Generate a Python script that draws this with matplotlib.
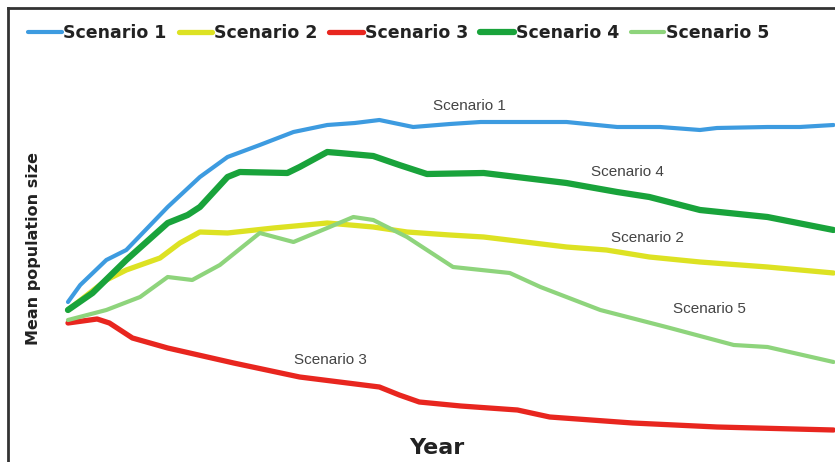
import matplotlib.pyplot as plt

# values (years, arbitrary population units)
yr1 = [0, 0.8, 2.5, 3.8, 6.5, 8.6, 10.4, 12.5, 14.7, 16.9, 18.7, 20.3, 22.5, 24.9, 26.9, 29.5, 32.5, 35.8, 38.6, 41.2, 42.3, 45.6, 47.7, 49.9]
pop1 = [138, 155, 180, 190, 233, 263, 283, 295, 308, 315, 317, 320, 313, 316, 318, 318, 318, 313, 313, 310, 312, 313, 313, 315]

yr2 = [0, 2.5, 3.8, 6.0, 7.3, 8.6, 10.4, 13.4, 16.9, 19.9, 22.1, 24.9, 27.1, 32.5, 35.1, 37.9, 41.2, 45.6, 49.9]
pop2 = [130, 160, 170, 182, 197, 208, 207, 212, 217, 213, 208, 205, 203, 193, 190, 183, 178, 173, 167]

yr3 = [0, 1.9, 2.7, 4.2, 6.5, 10.8, 15.1, 17.7, 20.3, 21.6, 22.9, 25.6, 29.3, 31.4, 36.8, 42.3, 49.9]
pop3 = [117, 121, 117, 102, 92, 77, 63, 58, 53, 45, 38, 34, 30, 23, 17, 13, 10]

yr4 = [0, 1.6, 3.8, 6.5, 7.8, 8.6, 10.4, 11.2, 14.3, 15.1, 16.9, 17.7, 19.9, 21.6, 23.4, 27.1, 32.5, 35.8, 37.9, 41.2, 45.6, 49.9]
pop4 = [130, 147, 180, 217, 225, 233, 263, 268, 267, 273, 288, 287, 284, 275, 266, 267, 257, 248, 243, 230, 223, 210]

yr5 = [0, 2.5, 4.7, 6.5, 8.1, 9.9, 12.5, 14.7, 16.9, 18.6, 19.9, 22.1, 25.1, 28.8, 30.8, 34.7, 39.0, 43.4, 45.6, 49.9]
pop5 = [120, 130, 143, 163, 160, 175, 207, 198, 212, 223, 220, 203, 173, 167, 153, 130, 113, 95, 93, 78]

names = ["Scenario 1", "Scenario 2", "Scenario 3", "Scenario 4", "Scenario 5"]
colors = ["#3d9be0", "#dde223", "#e8261f", "#19a33b", "#8ed47c"]
widths = [3.0, 3.8, 3.8, 4.5, 3.0]

# label positions (year, pop), same order as names
label_pos = [(26.2, 334), (37.8, 202), (17.1, 80), (36.5, 268), (41.8, 131)]

fig = plt.figure(figsize=(8.35, 4.62), dpi=100)
ax = fig.add_axes([8 / 835, 0, 827 / 835, 454 / 462])

series = [(yr1, pop1), (yr2, pop2), (yr3, pop3), (yr4, pop4), (yr5, pop5)]
for (x, y), name, c, w in zip(series, names, colors, widths):
    ax.plot(x, y, color=c, lw=w, label=name, solid_joinstyle="round", solid_capstyle="round")

for name, (lx, ly) in zip(names, label_pos):
    ax.text(lx, ly, name, color="#444444", fontsize=11, family="Liberation Sans",
            ha="center", va="center")

ax.set_xlim(-3.91, 50.0)
ax.set_ylim(-22, 432)
ax.set_xticks([])
ax.set_yticks([])
for s in ["right", "bottom"]:
    ax.spines[s].set_visible(False)
for s in ["left", "top"]:
    ax.spines[s].set_color("#333333")
    ax.spines[s].set_linewidth(2)

ax.text(0.031, 0.47, "Mean population size", transform=ax.transAxes, rotation=90,
        fontsize=11.5, fontweight="bold", ha="center", va="center", color="#222222")
ax.text(0.518, 0.03, "Year", transform=ax.transAxes, fontsize=16,
        fontweight="bold", ha="center", va="center", color="#222222")

leg = ax.legend(ncol=5, loc="upper left", bbox_to_anchor=(0.005, 1.0), frameon=False,
                handlelength=1.95, handletextpad=0.1, columnspacing=0.68,
                prop={"weight": "bold", "size": 12.5})
for t in leg.get_texts():
    t.set_color("#222222")

fig.savefig("out.png", dpi=100)
